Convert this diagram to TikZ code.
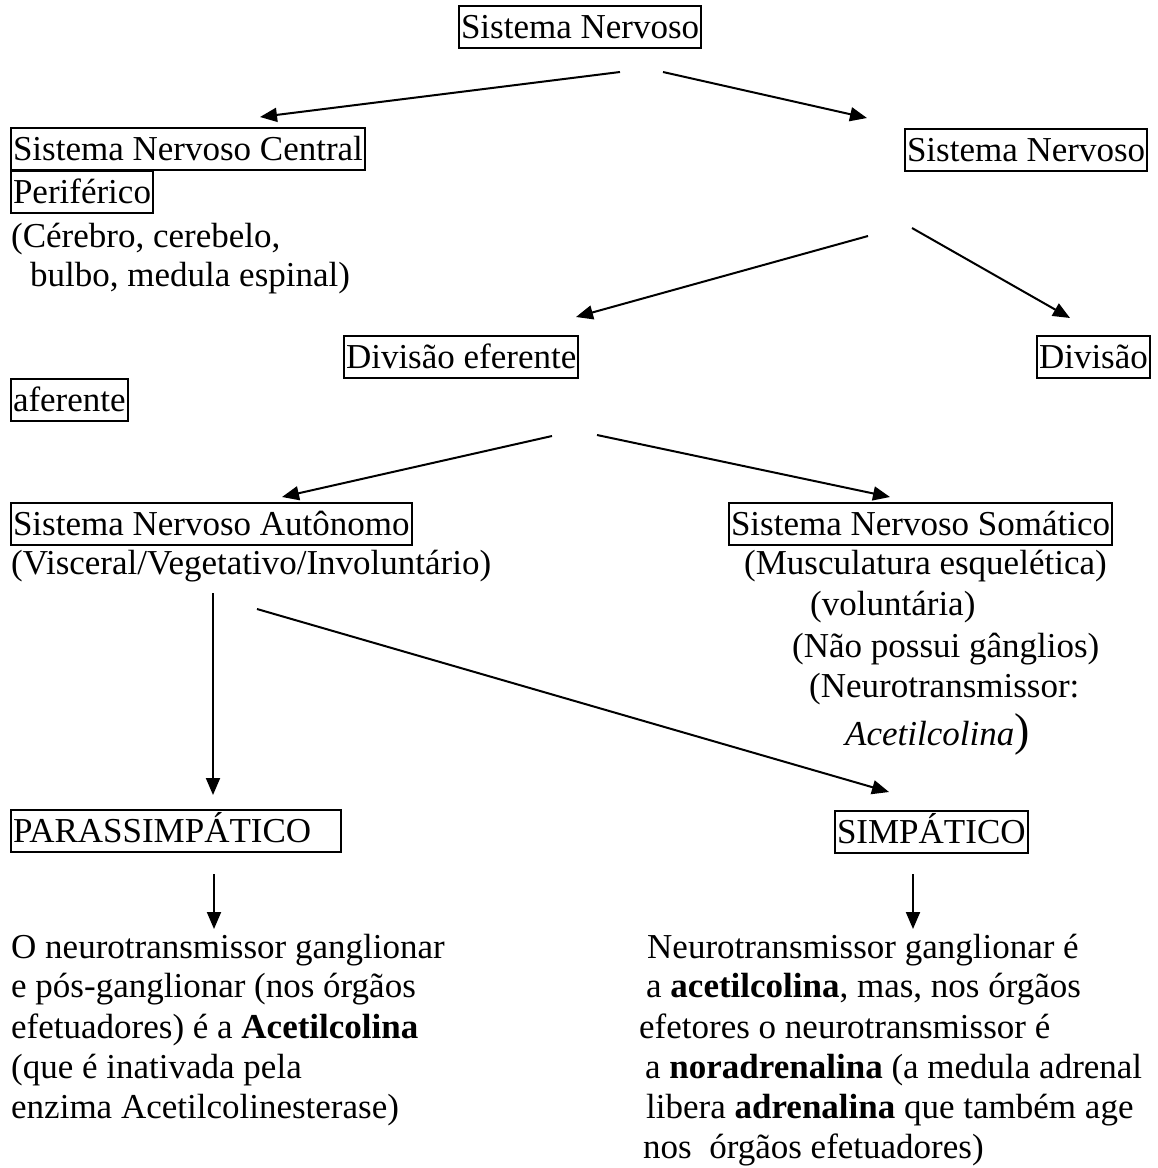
\documentclass[tikz,border=0pt]{standalone}
\usepackage{fontspec}
\setmainfont{Liberation Serif}
\usetikzlibrary{arrows.meta}
\begin{document}
\begin{tikzpicture}[x=1pt,y=-1pt,
  every node/.style={font=\fontsize{35}{40}\selectfont, inner sep=0pt, anchor=base west},
  boxed/.style={draw, line width=2pt, inner xsep=2pt, inner ysep=2pt, text height=30pt, text depth=8pt},
  txt/.style={},
  conn/.style={line width=2pt, -{Triangle[length=17pt,width=14pt]}}]
\useasboundingbox (0,0) rectangle (1158,1168);
% boxes
\node[boxed] (sn) at (458,38) {Sistema Nervoso};
\node[boxed] (snc) at (10,160) {Sistema Nervoso Central};
\node[boxed] (snp) at (904,161) {Sistema Nervoso};
\node[boxed] (perif) at (10,203) {Periférico};
\node[txt] (cer) at (11,247) {(Cérebro, cerebelo,};
\node[txt] (bulbo) at (30,286) {bulbo, medula espinal)};
\node[boxed] (efe) at (343,368) {Divisão eferente};
\node[boxed] (div) at (1036,368) {Divisão};
\node[boxed] (afe) at (10,411) {aferente};
\node[boxed] (sna) at (10,535) {Sistema Nervoso Autônomo};
\node[boxed] (sns) at (728,535) {Sistema Nervoso Somático};
\node[txt] (visc) at (11,574) {(Visceral/Vegetativo/Involuntário)};
\node[txt] (musc) at (744,574) {(Musculatura esquelética)};
\node[txt] (vol) at (810,615) {(voluntária)};
\node[txt] (gang) at (792,657) {(Não possui gânglios)};
\node[txt] (neur) at (809,697) {(Neurotransmissor:};
\node[txt] (acet) at (845,745) {\textit{Acetilcolina}{\fontsize{46}{50}\selectfont)}};
\node[boxed] (para) at (10,842) {\makebox[326pt][l]{PARASSIMPÁTICO}};
\node[boxed] (simp) at (834,843) {SIMPÁTICO};
% left block
\node[txt] (l1) at (11,958) {O neurotransmissor ganglionar};
\node[txt] (l2) at (11,997) {e pós-ganglionar (nos órgãos};
\node[txt] (l3) at (11,1038) {efetuadores) é a \textbf{Acetilcolina}};
\node[txt] (l4) at (11,1078) {(que é inativada pela};
\node[txt] (l5) at (11,1118) {enzima Acetilcolinesterase)};
% right block
\node[txt] (r1) at (647,958) {Neurotransmissor ganglionar é};
\node[txt] (r2) at (646,997) {a \textbf{acetilcolina}, mas, nos órgãos};
\node[txt] (r3) at (639,1038) {efetores o neurotransmissor é};
\node[txt] (r4) at (645,1078) {a \textbf{noradrenalina} (a medula adrenal};
\node[txt] (r5) at (646,1118) {libera \textbf{adrenalina} que também age};
\node[txt] (r6) at (643,1158) {nos\ \ órgãos efetuadores)};
% connector end points
\coordinate (a1s) at (620,72);  \coordinate (a1e) at (260,117);
\coordinate (a2s) at (663,72);  \coordinate (a2e) at (867,118);
\coordinate (a3s) at (868,236); \coordinate (a3e) at (576,317);
\coordinate (a4s) at (912,228); \coordinate (a4e) at (1070,318);
\coordinate (a5s) at (552,436); \coordinate (a5e) at (282,497);
\coordinate (a6s) at (597,435); \coordinate (a6e) at (890,497);
\coordinate (a7s) at (213,593); \coordinate (a7e) at (213,795);
\coordinate (a8s) at (257,609); \coordinate (a8e) at (889,792);
\coordinate (a9s) at (214,874); \coordinate (a9e) at (214,929);
\coordinate (a10s) at (913,874); \coordinate (a10e) at (913,929);
\foreach \i in {1,...,10} { \draw[conn] (a\i s) -- (a\i e); }
\end{tikzpicture}
\end{document}
